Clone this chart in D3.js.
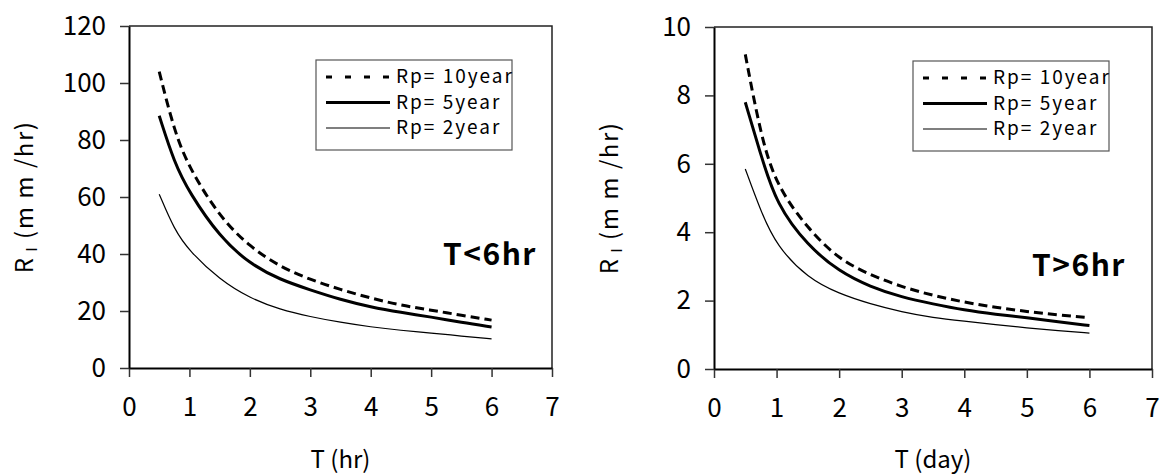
<!DOCTYPE html>
<html>
<head>
<meta charset="utf-8">
<script src="https://cdn.jsdelivr.net/npm/d3@7"></script>
<style>
  body { margin: 0; background: #fff; }
  svg text { font-family: "Noto Sans CJK JP", "Liberation Sans", sans-serif; fill: #000; }
</style>
</head>
<body>
<svg id="chart" width="1165" height="474"></svg>
<script>
// durations (hours on the left chart, days on the right)
const durations = [0.5, 0.75, 1, 1.5, 2, 2.5, 3, 3.5, 4, 4.5, 5, 5.5, 6];

// left chart, T < 6hr  (mm/hr)
const hrRp10 = [104, 83, 70, 53, 42.5, 35.5, 31, 27.5, 24.5, 22, 20.3, 18.5, 16.8];
const hrRp5 = [88.5, 72, 61.5, 46, 36.5, 31, 27.4, 24, 21.4, 19.5, 17.9, 16, 14.4];
const hrRp2 = [61, 48.5, 41, 31, 24.5, 20.5, 18, 16, 14.4, 13.2, 12.3, 11.2, 10.2];

// right chart, T > 6hr  (mm/hr)
const dayRp10 = [9.2, 6.8, 5.35, 4.1, 3.2, 2.75, 2.4, 2.15, 1.95, 1.8, 1.68, 1.58, 1.5];
const dayRp5 = [7.8, 6.25, 4.8, 3.6, 2.85, 2.4, 2.1, 1.9, 1.72, 1.6, 1.5, 1.38, 1.27];
const dayRp2 = [5.85, 4.6, 3.6, 2.65, 2.2, 1.9, 1.67, 1.5, 1.4, 1.3, 1.2, 1.12, 1.05];

const seriesNames = ["Rp= 10year", "Rp= 5year", "Rp= 2year"];
const xTicks = [0, 1, 2, 3, 4, 5, 6, 7];
const hrTicks = [0, 20, 40, 60, 80, 100, 120];
const dayTicks = [0, 2, 4, 6, 8, 10];

const styles = [
  {width: 3, dash: "9,5", legendDash: "6,13"},
  {width: 3, dash: null, legendDash: null},
  {width: 1.2, dash: null, legendDash: null}
];

const svg = d3.select("#chart");

function drawPanel(p) {
  const x = d3.scaleLinear().domain([0, 7]).range([p.left, p.right]);
  const y = d3.scaleLinear().domain([0, p.yMax]).range([p.bottom, p.top]);
  const g = svg.append("g");

  // frame top + right
  g.append("path")
    .attr("d", `M${p.left},${p.top}H${p.right}V${p.bottom}`)
    .attr("fill", "none").attr("stroke", "#222").attr("stroke-width", 1.5);

  const xAxis = g.append("g")
    .attr("transform", `translate(0,${p.bottom})`)
    .call(d3.axisBottom(x).tickValues(xTicks).tickFormat(d3.format("d"))
      .tickSize(9).tickPadding(21).tickSizeOuter(0));
  const yAxis = g.append("g")
    .attr("transform", `translate(${p.left},0)`)
    .call(d3.axisLeft(y).tickValues(p.yTicks).tickFormat(d3.format("d"))
      .tickSize(9).tickPadding(14).tickSizeOuter(0));

  [xAxis, yAxis].forEach(a => {
    a.select(".domain").attr("stroke", "#000").attr("stroke-width", 2);
    a.selectAll(".tick line").attr("stroke", "#333").attr("stroke-width", 1.5);
    a.selectAll(".tick text").attr("font-size", 26).attr("fill", "#000");
  });

  const line = d3.line()
    .x((d, i) => x(durations[i]))
    .y(d => y(d))
    .curve(d3.curveBasis);

  p.series.forEach((vals, k) => {
    g.append("path")
      .datum(vals)
      .attr("d", line)
      .attr("fill", "none")
      .attr("stroke", "#000")
      .attr("stroke-width", styles[k].width)
      .attr("stroke-dasharray", styles[k].dash);
  });

  // axis titles
  g.append("text")
    .attr("x", (p.left + p.right) / 2).attr("y", 468)
    .attr("text-anchor", "middle").attr("font-size", 24)
    .text(p.xTitle);

  const yt = g.append("text")
    .attr("transform", `translate(${p.left - 96},${(p.top + p.bottom) / 2}) rotate(-90)`)
    .attr("text-anchor", "middle").attr("font-size", 24)
    .attr("letter-spacing", 1.5);
  yt.append("tspan").text("R");
  yt.append("tspan").attr("font-size", 15).attr("dy", 4).text(" I");
  yt.append("tspan").attr("dy", -4).text(" (m m /hr)");

  // legend
  const lg = g.append("g").attr("transform", `translate(${p.legendX},${p.top + 34})`);
  lg.append("rect")
    .attr("width", 196).attr("height", 90)
    .attr("fill", "#fff").attr("stroke", "#555").attr("stroke-width", 1.2);
  seriesNames.forEach((name, k) => {
    const cy = 17 + k * 25.5;
    lg.append("line")
      .attr("x1", 10).attr("x2", 74).attr("y1", cy).attr("y2", cy)
      .attr("stroke", "#000").attr("stroke-width", styles[k].width)
      .attr("stroke-dasharray", styles[k].legendDash);
    lg.append("text")
      .attr("x", 80).attr("y", cy + 6)
      .attr("font-size", 19).attr("letter-spacing", 2)
      .text(name);
  });

  g.append("text")
    .attr("x", p.labelX).attr("y", p.labelY)
    .attr("font-size", 30).attr("font-weight", "bold")
    .attr("letter-spacing", 1.5)
    .text(p.label);
}

drawPanel({
  left: 129, right: 552, top: 26, bottom: 368, yMax: 120, yTicks: hrTicks,
  series: [hrRp10, hrRp5, hrRp2], xTitle: "T (hr)", label: "T<6hr",
  legendX: 316, labelX: 443, labelY: 265
});
drawPanel({
  left: 714, right: 1152, top: 27, bottom: 369, yMax: 10, yTicks: dayTicks,
  series: [dayRp10, dayRp5, dayRp2], xTitle: "T (day)", label: "T>6hr",
  legendX: 913, labelX: 1032, labelY: 276
});
</script>
</body>
</html>
